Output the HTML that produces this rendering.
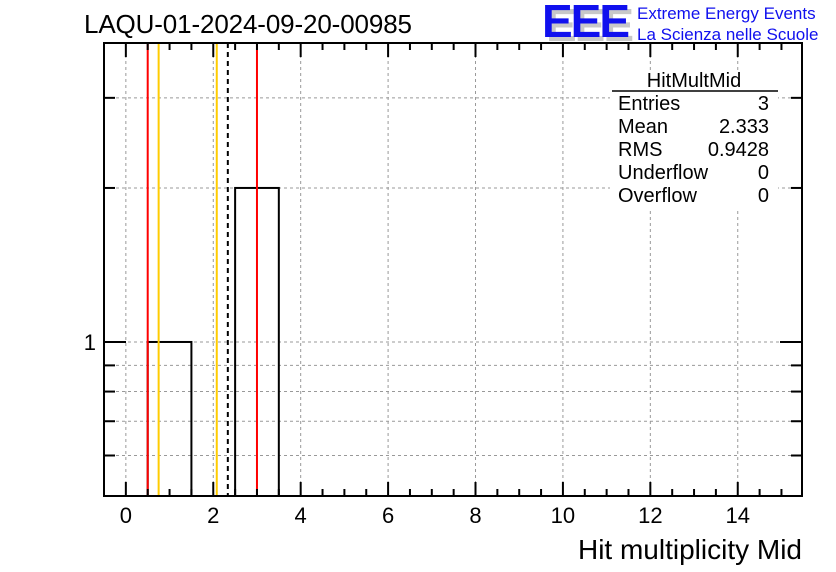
<!DOCTYPE html>
<html><head><meta charset="utf-8"><style>
body{margin:0;background:#fff;}
svg{display:block;font-family:"Liberation Sans",Arial,sans-serif;}
</style></head><body>
<svg id="c" width="836" height="572">
<rect width="836" height="572" fill="#fff"/>
<text x="84" y="33" font-size="26" textLength="328">LAQU-01-2024-09-20-00985</text>
<g>
<text x="546" y="41" font-size="46" font-weight="bold" fill="#c8c8c8" letter-spacing="-2">EEE</text>
<text x="542" y="37" font-size="46" font-weight="bold" fill="#1010ee" letter-spacing="-2">EEE</text>
<text x="637" y="19" font-size="17" fill="#1010ee">Extreme Energy Events</text>
<text x="637" y="40" font-size="17" fill="#1010ee">La Scienza nelle Scuole</text>
</g>
<g id="grid"></g><g id="marks"></g><g id="axes"></g>
<g>
<rect x="610" y="72" width="168" height="136" fill="#fff"/>
<text x="694" y="87" font-size="20" text-anchor="middle">HitMultMid</text>
<line x1="612" y1="91" x2="778" y2="91" stroke="#000" stroke-width="1.5"/>
<g font-size="20">
<text x="618" y="110">Entries</text><text x="769" y="110" text-anchor="end">3</text>
<text x="618" y="133">Mean</text><text x="769" y="133" text-anchor="end">2.333</text>
<text x="618" y="156">RMS</text><text x="769" y="156" text-anchor="end">0.9428</text>
<text x="618" y="179">Underflow</text><text x="769" y="179" text-anchor="end">0</text>
<text x="618" y="202">Overflow</text><text x="769" y="202" text-anchor="end">0</text>
</g></g>
<text x="802" y="559" font-size="28" text-anchor="end">Hit multiplicity Mid</text>
</svg>
<script>
const binLow=[0.5,2.5];
const binCounts=[1,2];
const redLines=[0.5,3.0];
const orangeLines=[0.75,2.08];
const meanLine=[2.333];
const xTicks=[0,2,4,6,8,10,12,14];
const yMinorVals=[0.6,0.7,0.8,0.9,1,2,3];
const L=104,R=802,T=43,B=496;
const X0=-0.5,X1=15.47,YMIN=0.5,YMAX=3.84;
const sx=v=>L+(v-X0)/(X1-X0)*(R-L);
const sy=v=>B-(Math.log10(v)-Math.log10(YMIN))/(Math.log10(YMAX)-Math.log10(YMIN))*(B-T);
const NS="http://www.w3.org/2000/svg";
function mk(p,t,a){const e=document.createElementNS(NS,t);for(const k in a)e.setAttribute(k,a[k]);p.appendChild(e);return e;}
const g=document.getElementById('grid'),m=document.getElementById('marks'),ax=document.getElementById('axes');
xTicks.forEach(v=>{const l=mk(g,'line',{x1:sx(v),x2:sx(v),y1:T,y2:B,stroke:'#999','stroke-dasharray':'3,3','stroke-width':1});

});
yMinorVals.forEach(v=>{const l=mk(g,'line',{x1:L,x2:R,y1:sy(v),y2:sy(v),stroke:'#999','stroke-dasharray':'3,3','stroke-width':1});

});
binLow.forEach((b,i)=>{const r=mk(m,'rect',{x:sx(b),y:sy(binCounts[i]),width:sx(b+1)-sx(b),height:B-sy(binCounts[i]),fill:'none',stroke:'#000','stroke-width':2});

});
redLines.forEach(v=>{const l=mk(m,'line',{x1:sx(v),x2:sx(v),y1:T,y2:B,stroke:'#f00','stroke-width':2});

});
orangeLines.forEach(v=>{const l=mk(m,'line',{x1:sx(v),x2:sx(v),y1:T,y2:B,stroke:'#ffcc00','stroke-width':2});

});
meanLine.forEach(v=>{const l=mk(m,'line',{x1:sx(v),x2:sx(v),y1:T,y2:B,stroke:'#000','stroke-width':2,'stroke-dasharray':'5,4'});

});
const f=mk(ax,'rect',{x:L,y:T,width:R-L,height:B-T,fill:'none',stroke:'#000','stroke-width':2});


for(let v=-0.5;v<=15.01;v+=0.5){const maj=xTicks.includes(v);const len=maj?14:7;
mk(ax,'line',{x1:sx(v),x2:sx(v),y1:B,y2:B-len,stroke:'#000','stroke-width':2});
mk(ax,'line',{x1:sx(v),x2:sx(v),y1:T,y2:T+len,stroke:'#000','stroke-width':2});}
xTicks.forEach(v=>{const t=mk(ax,'text',{x:sx(v),y:523,'font-size':22,'text-anchor':'middle'});t.textContent=v;

});
yMinorVals.forEach(v=>{const len=v===1?22:11;
mk(ax,'line',{x1:L,x2:L+len,y1:sy(v),y2:sy(v),stroke:'#000','stroke-width':2});
mk(ax,'line',{x1:R,x2:R-len,y1:sy(v),y2:sy(v),stroke:'#000','stroke-width':2});});
const yl=mk(ax,'text',{x:96,y:sy(1)+8,'font-size':22,'text-anchor':'end'});yl.textContent='1';


</script>
</body></html>
